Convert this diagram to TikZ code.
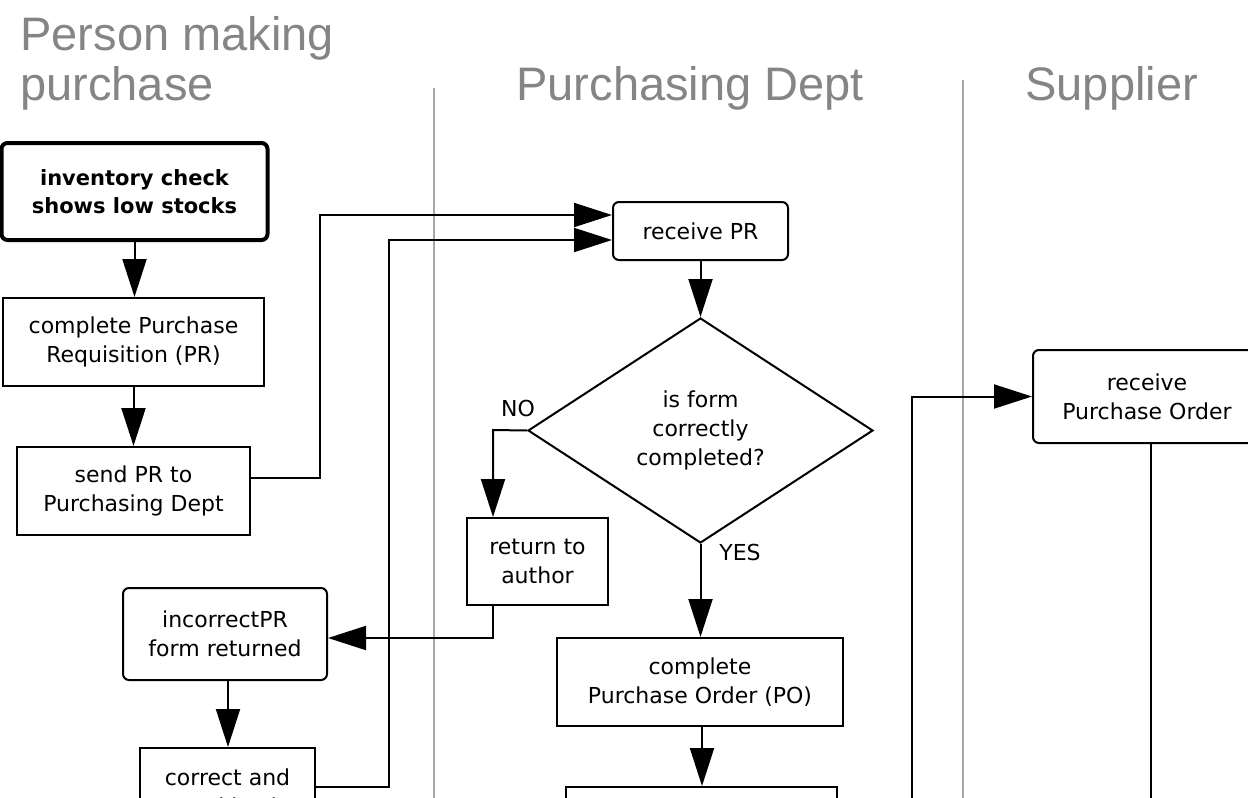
\documentclass[tikz,border=0pt]{standalone}
\usepackage{fontspec}
\usetikzlibrary{arrows.meta,shapes.geometric,calc}
\newfontfamily\boxfnt{DejaVu Sans}
\newfontfamily\headfnt{Liberation Sans}
\definecolor{headgray}{HTML}{858585}
\definecolor{divgray}{HTML}{A8A8A8}
\tikzset{
  box/.style={draw, line width=1pt, inner sep=0pt, align=center,
    font=\boxfnt\fontsize{11}{14.5}\selectfont},
  rbox/.style={box, rounded corners=3pt},
  arr/.style={line width=1pt, -{Triangle[length=19pt,width=12pt]}},
  conn/.style={line width=1pt},
  divider/.style={draw=divgray, line width=0.8pt},
  heading/.style={anchor=base west, inner sep=0pt, text=headgray,
    font=\headfnt\fontsize{23.5}{27}\selectfont},
  lbl/.style={inner sep=0pt, font=\boxfnt\fontsize{11}{14.5}\selectfont}
}
\begin{document}
\begin{tikzpicture}[x=0.5pt,y=-0.5pt]
\path[use as bounding box] (0,0) rectangle (1248,798);
\clip (0,0) rectangle (1248,798);
\fill[white] (0,0) rectangle (1248,798);

% headings
\node[heading] (h1) at (20,50) {Person making};
\node[heading] (h1b) at (20,100) {purchase};
\node[heading] (h2) at (516,100) {Purchasing Dept};
\node[heading] (h3) at (1025,100) {Supplier};

% lane dividers
\draw[divider] (434,88) -- (434,798);
\draw[divider] (963,80) -- (963,798);

% nodes
\node[rbox, line width=2pt, minimum width=133pt, minimum height=48.5pt,
  font=\boxfnt\bfseries\fontsize{10.5}{14}\selectfont] (b1) at (134.5,191.5)
  {inventory check\\shows low stocks};
\node[box, minimum width=130.5pt, minimum height=44pt] (b2) at (133.5,342)
  {complete Purchase\\Requisition (PR)};
\node[box, minimum width=116.5pt, minimum height=44pt] (b3) at (133.5,491)
  {send PR to\\Purchasing Dept};
\node[rbox, minimum width=87.5pt, minimum height=29pt] (rpr) at (700.5,231)
  {receive PR};
\node[box, diamond, minimum width=172.5pt, minimum height=112.5pt] (dia) at (700.5,430.5)
  {is form\\correctly\\completed?};
\node[box, minimum width=70.5pt, minimum height=43.5pt] (ret) at (537.5,561.5)
  {return to\\author};
\node[rbox, minimum width=102pt, minimum height=46pt] (inc) at (225,634)
  {incorrectPR\\form returned};
\node[box, minimum width=87.5pt, minimum height=44pt] (cor) at (227.5,792)
  {correct and\\send back};
\node[box, minimum width=143pt, minimum height=44pt] (cpo) at (700,682)
  {complete\\Purchase Order (PO)};
\node[box, minimum width=135.5pt, minimum height=44pt] (nx) at (701.5,831) {};
\node[rbox, minimum width=114pt, minimum height=46.5pt] (rpo) at (1147,396.5)
  {receive\\Purchase Order};

\node[lbl] (no) at (518,408) {NO};
\node[lbl] (yes) at (740,552) {YES};

% helper coordinates
\coordinate (k1) at (320,215);
\coordinate (k2) at (389,240);
\coordinate (k3) at (493,430);
\coordinate (k4) at (912,830);
\coordinate (s1) at ([xshift=1.5pt]inc.south);
\coordinate (s2) at ([xshift=1pt]cpo.south);

% connectors
\draw[arr] (b1.south) -- (b2.north -| b1.south);
\draw[arr] (b2.south) -- (b3.north -| b2.south);
\draw[arr] ([yshift=6.5pt]b3.east) -| (k1) -- (rpr.west |- k1);
\draw[arr] ([yshift=2.5pt]cor.east) -| (k2) -- (rpr.west |- k2);
\draw[arr] (rpr.south) -- (dia.north);
\draw[arr] (dia.west) -- (k3) -- (ret.north -| k3);
\draw[arr] (ret.south -| k3) |- ([yshift=-2pt]inc.east);
\draw[arr] (s1) -- (cor.north -| s1);
\draw[arr] (dia.south) -- (cpo.north -| dia.south);
\draw[arr] (s2) -- (nx.north -| s2);
\draw[arr] (k4) |- (rpo.west);
\draw[conn] ([xshift=2pt]rpo.south) -- ++(0,420);
\end{tikzpicture}
\end{document}
